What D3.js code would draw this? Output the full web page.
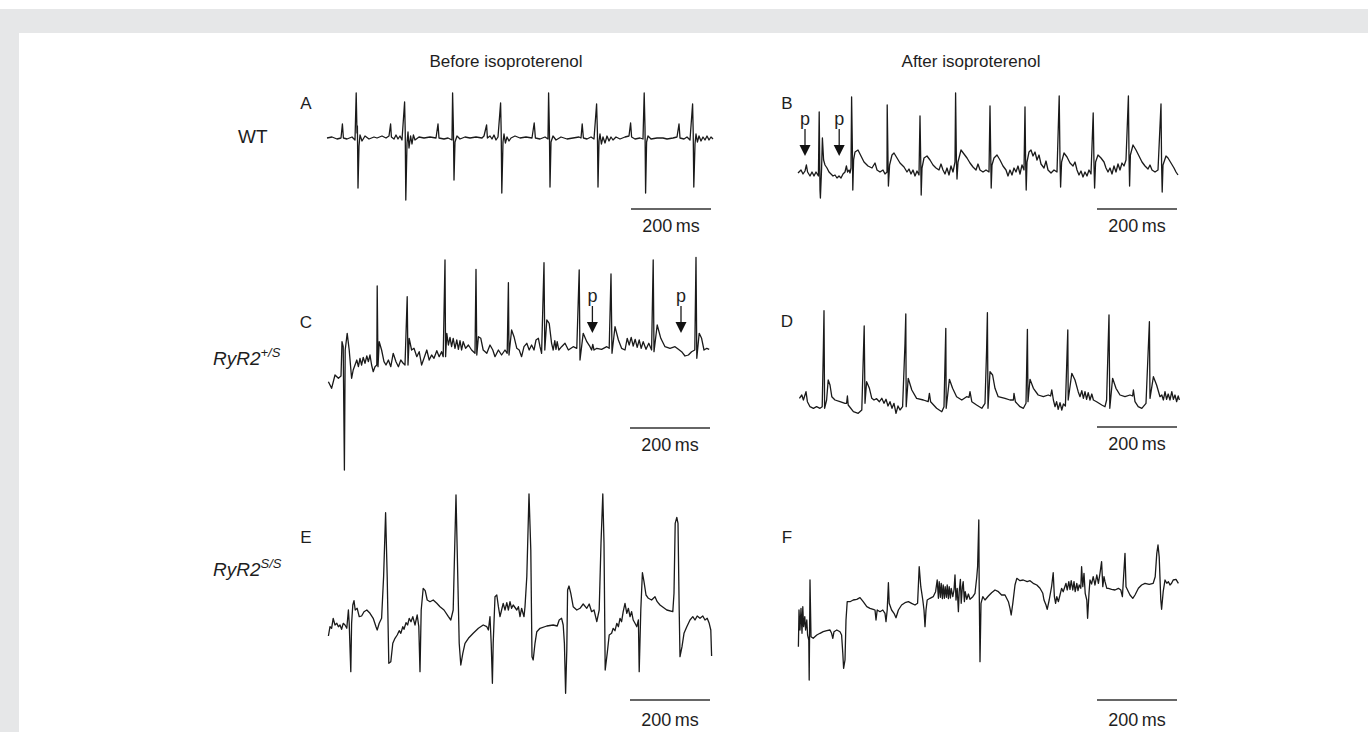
<!DOCTYPE html>
<html>
<head>
<meta charset="utf-8">
<script src="https://cdn.jsdelivr.net/npm/d3@7"></script>
<style>
  html, body { margin: 0; padding: 0; background: #fff; }
  svg { display: block; }
  text { font-family: "Liberation Sans", Arial, Helvetica, sans-serif; fill: #1e1e1e; }
</style>
</head>
<body>
<svg width="1368" height="732"></svg>
<script>
// ECG traces: [time in ms, amplitude in µV]
const traceA = [[0,0],[12.5,10],[25,-10],[35,0],[38.5,140],[41,0],[50,-10],[62.5,10],[70,-20],[73,450],[75,50],[76,120],[77.5,-500],[80,-80],[82.5,30],[87.5,-30],[95,20],[105,-10],[117.5,10],[125,0],[137.5,20],[147.5,0],[155,20],[159,140],[161,10],[167.5,-10],[172.5,30],[177.5,-10],[182.5,20],[187.5,-20],[194,360],[195.5,80],[197,-620],[200,-50],[202.5,60],[205,-100],[209,20],[212.5,-60],[216,30],[220,-20],[230,10],[242.5,0],[257.5,10],[272.5,0],[277.5,140],[280,0],[292.5,-10],[302.5,0],[312.5,-20],[314,450],[316,100],[317.5,-420],[320,-40],[325,20],[332.5,-10],[345,10],[357.5,0],[372.5,10],[387.5,0],[392.5,20],[399,130],[401,0],[407.5,20],[412.5,-10],[417.5,30],[422.5,-20],[427.5,10],[434,350],[435.5,60],[437,-550],[440,-40],[442.5,40],[446,-50],[450,10],[455,-30],[460,0],[470,20],[482.5,0],[497.5,10],[512.5,0],[518,150],[521,0],[532.5,-10],[545,10],[552.5,-10],[554,450],[556,80],[557.5,-490],[560,-40],[565,20],[572.5,-20],[585,10],[600,-10],[615,0],[630,10],[635,0],[638,140],[641,0],[650,-10],[660,10],[667.5,-10],[674,340],[676,60],[677.5,-490],[680,-30],[682.5,40],[686,-60],[690,10],[695,-50],[700,20],[705,-30],[710,10],[715,-20],[722.5,10],[732.5,-10],[745,10],[755,20],[759,150],[761.5,10],[770,-10],[782.5,0],[790,-10],[793,450],[795,100],[796.5,-550],[799,-40],[802.5,20],[810,-10],[825,0],[840,0],[850,-10],[865,0],[875,10],[880,140],[882.5,0],[892.5,-10],[900,10],[907.5,-20],[914,340],[915.5,60],[917,-490],[920,-60],[922.5,40],[926,-40],[930,20],[935,-30],[940,10],[945,-20],[950,20],[955,-20],[960,10],[965,-10]]

const traceB = [[0,-10],[7.5,20],[12.5,-20],[17.5,10],[21,70],[24,0],[30,-40],[35,0],[40,-40],[45,0],[51,-40],[53,600],[55,-180],[56,-260],[59,40],[61,340],[64,120],[67.5,70],[72.5,40],[77.5,0],[82.5,-20],[87.5,-40],[92.5,-30],[97.5,-60],[102.5,-40],[107.5,-60],[112.5,-20],[117.5,0],[121,60],[124,0],[127.5,20],[130,-10],[132.5,40],[134,750],[136,220],[137,-180],[139,120],[142.5,200],[150,220],[157.5,160],[165,100],[175,60],[185,40],[192.5,90],[197.5,20],[205,0],[212.5,20],[217.5,-20],[222.5,0],[223,670],[225,120],[226,-140],[229,70],[235,170],[240,190],[247.5,140],[255,90],[265,50],[272.5,0],[277.5,30],[282.5,-20],[287.5,20],[292.5,-40],[297.5,10],[302.5,-30],[305,560],[307,70],[308,-230],[310,40],[315,140],[322.5,160],[330,120],[337.5,70],[345,40],[352.5,20],[357.5,80],[362.5,20],[367.5,-20],[372.5,40],[377.5,-30],[382.5,60],[387.5,0],[392.5,100],[394,790],[396,120],[397.5,-70],[400,100],[407.5,220],[415,180],[422.5,140],[430,90],[437.5,50],[445,20],[450,80],[455,20],[462.5,0],[470,20],[477.5,0],[480,660],[482,120],[483,-160],[485,70],[490,140],[497.5,170],[505,120],[512.5,60],[520,20],[525,-40],[530,20],[535,-30],[540,40],[545,0],[550,60],[555,-20],[560,70],[565,20],[567.5,650],[569,120],[570.5,-180],[572.5,100],[577.5,200],[582.5,220],[587.5,160],[592.5,200],[597.5,120],[602.5,170],[607.5,80],[615,40],[620,110],[625,20],[632.5,-10],[640,20],[647.5,0],[653,760],[655,120],[656.5,-150],[659,100],[665,190],[672.5,150],[680,90],[687.5,60],[692.5,100],[697.5,20],[702.5,-30],[707.5,10],[712.5,-50],[717.5,0],[722.5,-40],[727.5,20],[732.5,-20],[738,590],[740,70],[741.5,-160],[744,100],[750,170],[757.5,140],[765,100],[770,40],[775,0],[780,40],[785,-20],[790,60],[795,0],[800,80],[805,20],[810,90],[815,60],[820,120],[826,760],[827.5,170],[829,-140],[831,170],[837.5,270],[845,220],[852.5,160],[860,100],[867.5,60],[875,30],[880,70],[885,20],[892.5,0],[900,20],[907.5,680],[909,70],[910.5,-200],[912.5,70],[920,160],[925,140],[932.5,90],[940,40],[945,0],[950,-30]]

const traceC = [[1,-217],[9,-283],[17.5,-150],[26,-183],[32.5,-160],[35,183],[38,133],[41,-1100],[43,100],[48,267],[53,100],[59,-183],[63,-100],[67.5,-50],[72,0],[76,-67],[80,17],[84,-50],[88,27],[92.5,-33],[97,40],[101,-17],[105,50],[109,-50],[113,-117],[117.5,-67],[122,-50],[123,740],[125,-67],[128,183],[134,100],[140,-17],[145,-50],[151,0],[157,-67],[163,67],[170,-17],[176,-67],[182,0],[188,-33],[192.5,-50],[198,633],[200,-50],[203,217],[209,100],[215,117],[222,33],[228,83],[234,-50],[240,17],[247,100],[253,0],[259,50],[265,17],[272,93],[278,33],[284,83],[288,33],[292.5,1000],[294,33],[297,267],[301,150],[305,227],[309,133],[313,217],[317.5,117],[322,200],[326,107],[330,193],[334,100],[338,183],[344,117],[351,150],[359,100],[367.5,67],[370,907],[372,50],[376,233],[382,217],[388,100],[397,67],[405,150],[412,100],[417.5,33],[426,100],[434,50],[442.5,100],[448,67],[451,773],[452.5,50],[459,300],[465,233],[472,117],[478,100],[484,33],[490,133],[497,167],[503,100],[509,150],[515,100],[520,200],[526,217],[530,133],[534,67],[540,973],[542,100],[547,400],[553,367],[559,167],[563,100],[567,193],[570,107],[573,183],[577,100],[584,133],[592.5,167],[601,100],[613,133],[622,117],[628,900],[630,0],[638,267],[647,183],[655,133],[659,100],[662,157],[665,100],[672,117],[684,107],[697,133],[703,117],[707.5,860],[710,67],[717.5,333],[726,200],[734,117],[742.5,100],[748,217],[753,150],[758,227],[763,140],[768,207],[773,127],[778,200],[783,117],[788,183],[795,107],[802,167],[809,100],[813,1000],[815,83],[823,350],[832,217],[842.5,133],[855,117],[867.5,133],[876,107],[884,83],[892.5,40],[901,50],[909,83],[917,100],[920,1027],[922,17],[928,267],[934,217],[940,100],[947,117],[953,107]]

const traceD = [[1,17],[7,50],[11,0],[17.5,83],[21,-17],[27.5,-67],[36,-83],[44,-67],[52.5,-83],[58,-67],[61,533],[62.5,893],[64,-83],[69,0],[73,200],[77.5,150],[82,33],[90,0],[102.5,-17],[115,-33],[119,-33],[121,40],[123,-50],[136,-117],[148,-133],[157,-100],[163,740],[165,-33],[169,183],[176,117],[182,17],[187.5,0],[194,13],[201,-17],[207,17],[212.5,-33],[217.5,7],[222.5,-60],[227.5,-17],[232.5,-83],[237.5,-33],[242.5,-133],[247.5,-60],[252.5,-100],[259,-67],[265,567],[267,860],[268,-67],[273,217],[282,100],[294,17],[311,0],[323,-17],[326,67],[329,-17],[344,-83],[357,-117],[362.5,-67],[367,717],[368,-83],[376,207],[384,117],[394,33],[407,0],[419,33],[425,27],[427.5,83],[432,-17],[444,-50],[457,-83],[465,-33],[469,500],[471,873],[472.5,-83],[477.5,283],[484,250],[490,117],[498,33],[515,17],[527.5,0],[536,0],[537.5,67],[541,-17],[552.5,-67],[561,-83],[567.5,-33],[571,707],[572.5,-17],[577.5,207],[586,117],[598,50],[611,33],[623,50],[629,40],[632,100],[636,0],[640,-67],[644,-17],[648,-93],[652.5,-27],[657,-100],[661,-40],[666,-60],[672,700],[673,0],[682,267],[690,200],[698,83],[702.5,33],[707,93],[711,17],[715,83],[719,7],[723,73],[727.5,0],[732,60],[736,0],[744,-17],[757,-50],[765,-67],[769,0],[773,567],[775,850],[777,-83],[784,217],[792.5,117],[802.5,50],[815,33],[827.5,50],[834,40],[836,100],[840,-17],[848,-67],[857,-83],[867.5,-33],[876,783],[877.5,17],[886,233],[894,150],[902.5,33],[907,50],[911,0],[915,83],[919,7],[923,60],[927.5,0],[932,83],[936,7],[940,50],[944,-17],[948,40],[951,0]]

const traceE = [[1,-160],[5,-67],[9,-83],[13,17],[17.5,-50],[22,-33],[26,-67],[30,-50],[34,-93],[38,-33],[42.5,-50],[47,-83],[51,100],[53,-33],[57,-517],[59,-33],[62,150],[65,193],[68,100],[73,117],[78,33],[84,40],[90,83],[97,100],[105,67],[113,17],[120,-67],[123,-100],[128,-33],[134,17],[139,433],[144,1073],[148,433],[152,-433],[157,-417],[162,-233],[167.5,-183],[173,-150],[178,-107],[182,-133],[187,-67],[190,-93],[195,-27],[199,-50],[203,17],[207.5,-17],[212,33],[217.5,-50],[223,50],[227,-67],[230,-517],[233,100],[238,317],[243,293],[248,200],[255,183],[263,200],[272,167],[280,133],[290,100],[301,33],[307,0],[313,100],[317,767],[320,1250],[323,700],[328,-233],[332,-450],[337,-333],[342.5,-233],[351,-183],[363,-133],[376,-83],[388,-50],[397,-67],[401,-100],[405,33],[408,-233],[411,-633],[413,-233],[417.5,233],[422,250],[426,133],[430,33],[434,100],[438,167],[442.5,100],[447,173],[451,100],[455,183],[459,117],[463,150],[472,100],[476,133],[480,33],[484,117],[490,33],[492.5,133],[497,433],[502.5,1260],[507,700],[510,-367],[513,-400],[517.5,-233],[522,-117],[530,-83],[547,-60],[563,-50],[573,-60],[578,0],[584,17],[588,-50],[591,-233],[594,-733],[597,-300],[599,300],[602.5,340],[607,267],[613,133],[622,100],[630,117],[638,160],[647,117],[653,160],[659,83],[665,100],[672,-17],[678,100],[682.5,767],[687,1260],[690,767],[693,-500],[698,-333],[703,-150],[709,-133],[713,-83],[717.5,-107],[722,-33],[726,-67],[730,17],[734,-17],[738,83],[742.5,167],[747,67],[751,117],[755,33],[759,83],[763,0],[767.5,-33],[772,-67],[776,0],[778,-517],[782,100],[786,473],[790,383],[795,250],[801,217],[809,200],[817.5,233],[823,183],[830,150],[847,100],[862,83],[865,267],[868,967],[872,1027],[875,967],[878,100],[880,-367],[885,-267],[890,-133],[897,-67],[905,0],[912,33],[917.5,0],[923,40],[930,17],[937,40],[942.5,0],[948,17],[953,-33],[957,-100],[959,-360]]

const traceF = [[1,-267],[2.5,100],[5,-100],[7.5,117],[10,-133],[12,133],[14,-67],[17,33],[19,-100],[22,0],[24,-150],[27,-200],[28,-600],[30,400],[32.5,-167],[38,-183],[47,-150],[55,-133],[63,-117],[72,-107],[80,-100],[84,-133],[87,-183],[90,-117],[97,-100],[105,-117],[109,-150],[112,-333],[114,-483],[117.5,-400],[120,0],[123,183],[130,183],[138,200],[147,207],[155,223],[163,183],[172,133],[180,117],[188,107],[192.5,100],[195,0],[198,100],[205,83],[212,100],[217.5,67],[220,-17],[223,100],[226,373],[228,167],[234,100],[240,67],[245,23],[251,100],[259,150],[267.5,173],[276,183],[284,167],[292.5,150],[299,167],[303,533],[307,333],[312,200],[315,100],[317.5,-67],[320,100],[323,200],[330,217],[338,233],[344,283],[348,400],[351,217],[353,383],[356,227],[358,367],[361,213],[363,350],[366,217],[368,333],[371,227],[373,350],[376,213],[378,333],[381,220],[383,317],[387,233],[390,300],[392.5,450],[395,200],[398,317],[401,83],[403,283],[406,407],[408,167],[411,333],[413,383],[416,183],[418,283],[422,207],[426,260],[430,207],[437,233],[442.5,267],[447,433],[449,533],[452,1000],[453,333],[455,-417],[457.5,167],[462,233],[467.5,200],[476,240],[484,273],[492.5,300],[501,283],[509,250],[517.5,250],[526,183],[530,117],[533,50],[537,167],[542.5,350],[547,417],[555,393],[563,400],[573,383],[580,393],[588,367],[597,350],[605,317],[612,267],[615,200],[620,150],[623,107],[628,200],[634,333],[638,473],[641,233],[644,167],[647,233],[651,183],[655,250],[659,317],[663,283],[670,367],[673,300],[677,383],[680,307],[683,393],[687,300],[690,383],[693,283],[697,367],[700,293],[703,350],[707,317],[709,533],[712,333],[715,467],[718,267],[722,200],[724,17],[727.5,267],[730,400],[734,360],[738,433],[742.5,350],[747,450],[751,367],[755,467],[759,583],[762,333],[765,433],[767.5,383],[772,317],[776,317],[784,307],[792.5,300],[801,317],[807,300],[811,233],[813,367],[817.5,667],[820,333],[826,283],[830,250],[837,217],[842.5,250],[851,317],[859,350],[867.5,367],[878,357],[888,367],[893,433],[897,667],[900,750],[903,633],[907,200],[909,107],[913,283],[917.5,400],[922,367],[926,383],[930,350],[934,367],[938,400],[945,407],[951,367]]

// P-wave arrows: [time ms, amplitude µV] of the arrow tip
const arrowsB = [[17.5, 160], [103, 160]]
const arrowsC = [[661, 270], [882.5, 270]]

// labels
const panelLetters = ['A', 'B', 'C', 'D', 'E', 'F']
const columnTitles = ['Before isoproterenol', 'After isoproterenol']
const rowLabels = [
    { main: 'WT', sup: '', italic: false },
    { main: 'RyR2', sup: '+/S', italic: true },
    { main: 'RyR2', sup: 'S/S', italic: true }
]
const scaleBarMs = 200
const scaleBarLabel = '200\u2009ms'
const arrowLabel = 'p'

const svg = d3.select('svg')

// layout of the six panels (pixels)
const layout = [
    { x0: 327, base: 138, barStart: 760, barY: 209, lx: 306, ly: 109, trace: traceA },
    { x0: 798, base: 172, barStart: 747.5, barY: 209, lx: 787, ly: 109, trace: traceB, arrows: arrowsB },
    { x0: 328, base: 360, barStart: 755, barY: 428, lx: 306, ly: 328, trace: traceC, arrows: arrowsC },
    { x0: 799, base: 400, barStart: 745, barY: 427, lx: 787, ly: 327, trace: traceD },
    { x0: 328, base: 620, barStart: 755, barY: 700, lx: 306, ly: 543, trace: traceE },
    { x0: 798, base: 620, barStart: 747.5, barY: 700, lx: 787, ly: 543, trace: traceF }
]

drawBackground()
drawTitles()
layout.forEach((p, i) => drawPanel(p, panelLetters[i]))

function drawBackground() {
    svg.append('rect').attr('width', 1368).attr('height', 732).attr('fill', '#fff')
    svg.append('rect').attr('x', 0).attr('y', 9).attr('width', 1368).attr('height', 24).attr('fill', '#e6e7e8')
    svg.append('rect').attr('x', 0).attr('y', 9).attr('width', 19).attr('height', 723).attr('fill', '#e6e7e8')
}

function drawTitles() {
    const titleX = [506, 971]
    svg.selectAll('text.title')
        .data(columnTitles)
        .enter()
        .append('text')
            .attr('class', 'title')
            .attr('x', (d, i) => titleX[i])
            .attr('y', 67)
            .attr('text-anchor', 'middle')
            .style('font-size', '17px')
            .text(d => d)

    const rowPos = [[238, 143], [213, 365], [213, 576]]
    rowLabels.forEach((r, i) => {
        const t = svg.append('text')
            .attr('x', rowPos[i][0])
            .attr('y', rowPos[i][1])
            .style('font-size', '19px')
            .style('font-style', r.italic ? 'italic' : 'normal')
        t.append('tspan').text(r.main)
        if (r.sup) {
            t.append('tspan')
                .attr('dy', -8)
                .style('font-size', '13px')
                .text(r.sup)
        }
    })
}

function drawPanel(p, letter) {
    const x = d3.scaleLinear().domain([0, 1000]).range([p.x0, p.x0 + 400])
    const y = d3.scaleLinear().domain([-1000, 1000]).range([p.base + 100, p.base - 100])
    const g = svg.append('g')

    g.append('text')
        .attr('x', p.lx)
        .attr('y', p.ly)
        .attr('text-anchor', 'middle')
        .style('font-size', '17px')
        .text(letter)

    const line = d3.line()
        .x(d => x(d[0]))
        .y(d => y(d[1]))

    g.append('path')
        .datum(p.trace)
        .attr('d', line)
        .attr('fill', 'none')
        .attr('stroke', '#1a1a1a')
        .attr('stroke-width', 1.3)
        .attr('stroke-linejoin', 'round')

    // 200 ms scale bar
    g.append('line')
        .attr('x1', x(p.barStart))
        .attr('x2', x(p.barStart + scaleBarMs))
        .attr('y1', p.barY)
        .attr('y2', p.barY)
        .attr('stroke', '#333')
        .attr('stroke-width', 1.3)
    g.append('text')
        .attr('x', x(p.barStart + scaleBarMs / 2))
        .attr('y', p.barY + (p.barY > 600 ? 26 : 23))
        .attr('text-anchor', 'middle')
        .style('font-size', '18px')
        .text(scaleBarLabel)

    if (!p.arrows) return

    const arrows = g.selectAll('g.arrow')
        .data(p.arrows)
        .enter()
        .append('g')
            .attr('class', 'arrow')
            .attr('transform', d => `translate(${x(d[0])},${y(d[1])})`)

    arrows.append('line')
        .attr('y1', -27)
        .attr('y2', -10)
        .attr('stroke', '#1a1a1a')
        .attr('stroke-width', 1.3)
    arrows.append('path')
        .attr('d', 'M-5.5,-11L5.5,-11L0,0Z')
        .attr('fill', '#111')
    arrows.append('text')
        .attr('y', -31)
        .attr('text-anchor', 'middle')
        .style('font-size', '18px')
        .text(arrowLabel)
}
</script>
</body>
</html>
